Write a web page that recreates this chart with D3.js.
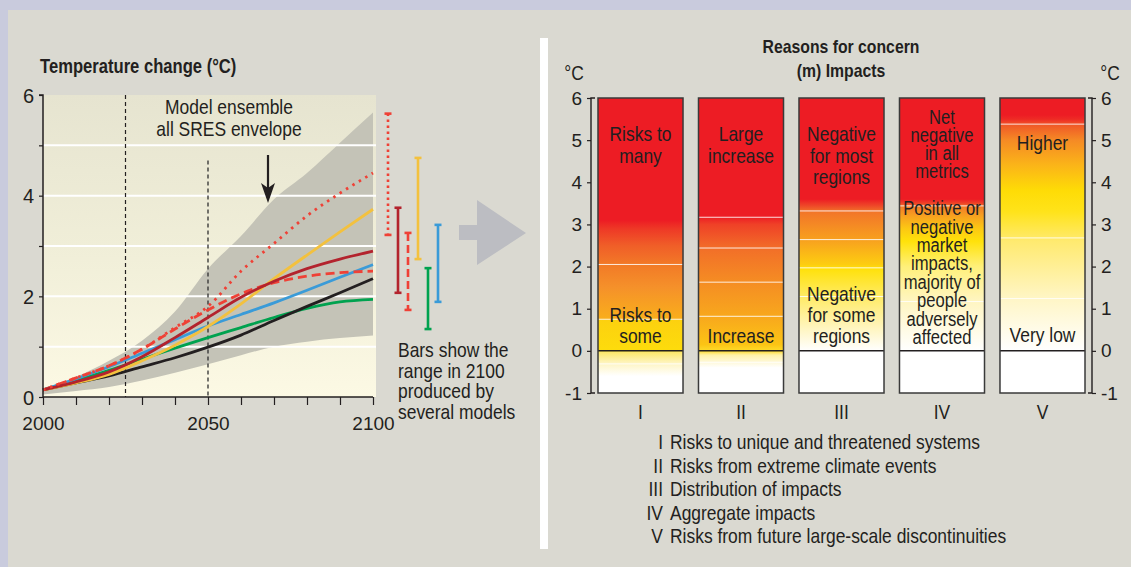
<!DOCTYPE html>
<html lang="en">
<head>
<meta charset="UTF-8">
<script src="https://d3js.org/d3.v7.min.js"></script>
<title>Temperature change and reasons for concern</title>
<style>
  body { margin: 0; background: #dad9d1; }
  svg text { fill: #231f20; }
  .narrow { font-family: "Liberation Sans", Arial, sans-serif; }
  .num { font-family: "Liberation Sans", Arial, sans-serif; }
</style>
</head>
<body>
<svg id="chart" width="1131" height="567"></svg>
<script>
// ---- left panel data: temperature change (deg C) by year ----
const years = [2000, 2010, 2020, 2030, 2040, 2050, 2060, 2070, 2080, 2090, 2100];
const envUpper = [0.15, 0.40, 0.72, 1.12, 1.70, 2.55, 3.20, 3.93, 4.45, 5.05, 5.65];
const envLower = [0.05, 0.12, 0.20, 0.33, 0.48, 0.65, 0.83, 1.00, 1.10, 1.17, 1.22];
const green   = [0.14, 0.33, 0.53, 0.75, 0.97, 1.18, 1.38, 1.58, 1.76, 1.89, 1.94];
const black   = [0.14, 0.28, 0.42, 0.60, 0.78, 0.99, 1.23, 1.52, 1.80, 2.07, 2.35];
const blue    = [0.14, 0.36, 0.60, 0.87, 1.14, 1.41, 1.64, 1.87, 2.12, 2.38, 2.63];
const yellow  = [0.14, 0.28, 0.45, 0.72, 1.03, 1.40, 1.85, 2.35, 2.82, 3.28, 3.73];
const redDash = [0.14, 0.38, 0.62, 0.95, 1.35, 1.73, 2.05, 2.27, 2.40, 2.47, 2.50];
const darkRed = [0.14, 0.30, 0.50, 0.80, 1.18, 1.58, 1.98, 2.30, 2.55, 2.74, 2.90];
const redDot  = [0.14, 0.38, 0.62, 0.95, 1.38, 1.80, 2.50, 3.05, 3.60, 4.05, 4.45];

// ranges in 2100 from several models [low, high]
const rangeNames = ["redDot", "darkRed", "redDash", "yellow", "green", "blue"];
const rangeLow  = [3.22, 2.07, 1.73, 2.74, 1.35, 1.89];
const rangeHigh = [5.63, 3.76, 3.26, 4.75, 2.56, 3.42];

const leftYTicks = [0, 2, 4, 6];
const leftXTicks = [2000, 2050, 2100];
const markerYears = [2025, 2050];

// ---- right panel data: reasons for concern ----
const reasons = ["I", "II", "III", "IV", "V"];
const reasonNames = [
  "Risks to unique and threatened systems",
  "Risks from extreme climate events",
  "Distribution of impacts",
  "Aggregate impacts",
  "Risks from future large-scale discontinuities"
];
const topLabels = [
  ["Risks to", "many"],
  ["Large", "increase"],
  ["Negative", "for most", "regions"],
  ["Net", "negative", "in all", "metrics"],
  ["Higher"]
];
const bottomLabels = [
  ["Risks to", "some"],
  ["Increase"],
  ["Negative", "for some", "regions"],
  ["Positive or", "negative", "market", "impacts,", "majority of", "people", "adversely", "affected"],
  ["Very low"]
];
// colour stops [temperature, colour] for each reason
const stopsI   = [[-1, "#ffffff"], [-0.6, "#ffffff"], [-0.3, "#fef5c4"], [-0.02, "#fde766"], [0, "#fddc0c"], [0.72, "#fcd10f"], [0.76, "#f9ae1b"], [1.5, "#f5912a"], [2.0, "#f27c27"], [2.5, "#f05e28"], [2.9, "#ee3826"], [3.1, "#ed1c24"], [6, "#ed1c24"]];
const stopsII  = [[-1, "#ffffff"], [-0.4, "#ffffff"], [-0.1, "#fef1a8"], [0, "#fedb2a"], [0.15, "#fcc414"], [0.8, "#f8a81d"], [1.6, "#f58e23"], [2.4, "#f27028"], [3.0, "#ef4127"], [3.18, "#ed1c24"], [6, "#ed1c24"]];
const stopsIII = [[-1, "#ffffff"], [0, "#ffffff"], [0.6, "#fff4b8"], [1.2, "#ffec70"], [1.95, "#ffe10a"], [2.05, "#fdcd10"], [2.6, "#f8a31e"], [3.3, "#f27529"], [3.45, "#ee4628"], [3.6, "#ed1c24"], [6, "#ed1c24"]];
const stopsIV  = [[-1, "#ffffff"], [0, "#ffffff"], [1.2, "#fff5c0"], [2.0, "#fff07a"], [2.6, "#ffe20a"], [2.9, "#fcc813"], [3.2, "#f7a11f"], [3.42, "#f27d28"], [3.5, "#ee4427"], [3.6, "#ed1c24"], [6, "#ed1c24"]];
const stopsV   = [[-1, "#ffffff"], [0, "#ffffff"], [1.2, "#fff6c8"], [2.6, "#ffea70"], [3.3, "#ffe31a"], [3.8, "#fedc06"], [4.4, "#fbb518"], [5.0, "#f58a25"], [5.35, "#f05a27"], [5.5, "#ee2a25"], [5.6, "#ed1c24"], [6, "#ed1c24"]];
const reasonStops = [stopsI, stopsII, stopsIII, stopsIV, stopsV];
// thin white division lines (deg C)
const reasonLines = [[-0.31, 0.75, 2.05], [-0.27, 0.82, 1.63, 2.44, 3.17], [1.29, 1.97, 2.64, 3.32], [1.17, 3.44], [1.24, 2.68, 5.38]];
const rightTicks = [-1, 0, 1, 2, 3, 4, 5, 6];

const svg = d3.select("#chart");
const defs = svg.append("defs");

// background frame
svg.append("rect").attr("width", 1131).attr("height", 567).attr("fill", "#dad9d1");
svg.append("rect").attr("width", 1131).attr("height", 10).attr("fill", "#c9cbdd");
svg.append("rect").attr("width", 8).attr("height", 567).attr("fill", "#c9cbdd");
svg.append("rect").attr("x", 540).attr("y", 38).attr("width", 8).attr("height", 511).attr("fill", "#ffffff");

// ================= left panel =================
const x = d3.scaleLinear().domain([2000, 2100]).range([43, 373]);
const y = d3.scaleLinear().domain([0, 6]).range([397, 95]);

const bg = defs.append("linearGradient").attr("id", "plotbg").attr("x1", 0).attr("x2", 0).attr("y1", 0).attr("y2", 1);
bg.append("stop").attr("offset", 0).attr("stop-color", "#e6e4d0");
bg.append("stop").attr("offset", 0.5).attr("stop-color", "#f0eed8");
bg.append("stop").attr("offset", 1).attr("stop-color", "#fcf9e4");

const left = svg.append("g");
left.append("rect").attr("x", x(2000)).attr("y", y(6)).attr("width", x(2100) - x(2000) + 3).attr("height", y(0) - y(6)).attr("fill", "url(#plotbg)");

const env = years.map((yr, i) => ({ yr, lo: envLower[i], hi: envUpper[i] }));
left.append("path")
  .datum(env)
  .attr("fill", "#c4c3b7")
  .attr("d", d3.area().curve(d3.curveMonotoneX).x(d => x(d.yr)).y0(d => y(d.lo)).y1(d => y(d.hi)));

// white grid
left.selectAll(".grid").data([1, 2, 3, 4, 5]).join("line")
  .attr("x1", x(2000)).attr("x2", x(2100) + 3)
  .attr("y1", d => y(d)).attr("y2", d => y(d))
  .attr("stroke", "#ffffff").attr("stroke-width", 2);

// vertical dashed markers
left.append("line").attr("x1", x(markerYears[0])).attr("x2", x(markerYears[0]))
  .attr("y1", y(6)).attr("y2", y(0))
  .attr("stroke", "#231f20").attr("stroke-width", 1.2).attr("stroke-dasharray", "4,3");
left.append("line").attr("x1", x(markerYears[1])).attr("x2", x(markerYears[1]))
  .attr("y1", y(4.7)).attr("y2", y(0))
  .attr("stroke", "#2e2e2e").attr("stroke-width", 1.3).attr("stroke-dasharray", "4,3");

const series = [
  { name: "green", values: green, color: "#00a24f", dash: null },
  { name: "black", values: black, color: "#231f20", dash: null },
  { name: "blue", values: blue, color: "#3a9bd8", dash: null },
  { name: "yellow", values: yellow, color: "#f3c13e", dash: null },
  { name: "redDash", values: redDash, color: "#ef4136", dash: "9,5" },
  { name: "darkRed", values: darkRed, color: "#b3232d", dash: null },
  { name: "redDot", values: redDot, color: "#ef4136", dash: "2.5,5" }
];
const line = d3.line().curve(d3.curveMonotoneX).x((d, i) => x(years[i])).y(d => y(d));
left.selectAll(".series").data(series).join("path")
  .attr("fill", "none")
  .attr("stroke", d => d.color)
  .attr("stroke-width", 2.8)
  .attr("stroke-dasharray", d => d.dash)
  .attr("d", d => line(d.values));

// axes
const yAxis = d3.axisLeft(y).tickValues([0, 1, 2, 3, 4, 5, 6]).tickSize(4).tickFormat(d => leftYTicks.includes(d) ? d : "");
const gy = left.append("g").attr("transform", `translate(${x(2000)},0)`).call(yAxis);
gy.select(".domain").attr("stroke", "#231f20").attr("stroke-width", 1.5).attr("d", `M-4,${y(6)}H0V${y(0)}`);
gy.selectAll(".tick line").attr("stroke", "#231f20").attr("stroke-width", 1.2);
gy.selectAll(".tick text").attr("class", "num").attr("font-size", 20).attr("x", -9).attr("dy", "0.36em").attr("fill", "#231f20");

const xAxis = d3.axisBottom(x).tickValues(d3.range(2000, 2101, 10)).tickSize(8).tickFormat(d => leftXTicks.includes(d) ? d : "");
const gx = left.append("g").attr("transform", `translate(0,${y(0)})`).call(xAxis);
gx.select(".domain").attr("stroke", "#231f20").attr("stroke-width", 1.5).attr("d", `M${x(2000)},0H${x(2100)}`);
gx.selectAll(".tick line").attr("stroke", "#231f20").attr("stroke-width", 1.2);
gx.selectAll(".tick text").attr("class", "num").attr("font-size", 19).attr("y", 20).attr("dy", "0.71em").attr("fill", "#231f20");

left.append("text").attr("class", "narrow").attr("x", 40).attr("y", 73)
  .attr("font-size", 20).attr("font-weight", "bold").text("Temperature change (°C)");

left.append("text").attr("class", "narrow").attr("text-anchor", "middle").attr("font-size", 21)
  .selectAll("tspan").data(["Model ensemble", "all SRES envelope"]).join("tspan")
  .attr("x", 229).attr("y", (d, i) => 114 + i * 22).text(d => d);

// black arrow
left.append("line").attr("x1", 268).attr("x2", 268).attr("y1", 155).attr("y2", 190)
  .attr("stroke", "#231f20").attr("stroke-width", 2.2);
left.append("path").attr("d", "M261,183 L268,203 L275,183 L268,188 Z").attr("fill", "#231f20");

// range bars
const bx = d3.scalePoint().domain(rangeNames).range([388, 438]);
const colorOf = Object.fromEntries(series.map(s => [s.name, s]));
const bars = left.selectAll(".rng").data(rangeNames).join("g");
bars.append("line")
  .attr("x1", d => bx(d)).attr("x2", d => bx(d))
  .attr("y1", (d, i) => y(rangeHigh[i])).attr("y2", (d, i) => y(rangeLow[i]))
  .attr("stroke", d => colorOf[d].color).attr("stroke-width", 2.6)
  .attr("stroke-dasharray", d => d === "redDot" ? "2.5,3.5" : d === "redDash" ? "8,4" : null);
[rangeHigh, rangeLow].forEach(arr => {
  bars.append("line")
    .attr("x1", d => bx(d) - 3.5).attr("x2", d => bx(d) + 3.5)
    .attr("y1", (d, i) => y(arr[i])).attr("y2", (d, i) => y(arr[i]))
    .attr("stroke", d => colorOf[d].color).attr("stroke-width", 2.6);
});

left.append("text").attr("class", "narrow").attr("font-size", 21)
  .selectAll("tspan").data(["Bars show the", "range in 2100", "produced by", "several models"]).join("tspan")
  .attr("x", 398).attr("y", (d, i) => 357 + i * 20.7).text(d => d);

// grey arrow
svg.append("path").attr("d", "M459,225 H477 V200 L526,233 L477,265 V240 H459 Z").attr("fill", "#bcbdc2");

// ================= right panel =================
const yR = d3.scaleLinear().domain([-1, 6]).range([393, 98]);
const xR = d3.scaleBand().domain(reasons).range([598, 1085]).paddingInner(0.154).paddingOuter(0);

reasons.forEach((r, i) => {
  const g = defs.append("linearGradient").attr("id", "grad" + i)
    .attr("gradientUnits", "userSpaceOnUse")
    .attr("x1", 0).attr("x2", 0).attr("y1", yR(-1)).attr("y2", yR(6));
  g.selectAll("stop").data(reasonStops[i]).join("stop")
    .attr("offset", d => (d[0] + 1) / 7).attr("stop-color", d => d[1]);
});

const right = svg.append("g");
const cols = right.selectAll(".col").data(reasons).join("g");
cols.append("rect")
  .attr("x", d => xR(d)).attr("y", yR(6))
  .attr("width", xR.bandwidth()).attr("height", yR(-1) - yR(6))
  .attr("fill", (d, i) => `url(#grad${i})`);
cols.each(function (d, i) {
  d3.select(this).selectAll(".div").data(reasonLines[i]).join("line")
    .attr("x1", xR(d)).attr("x2", xR(d) + xR.bandwidth())
    .attr("y1", v => yR(v)).attr("y2", v => yR(v))
    .attr("stroke", "#ffffff").attr("stroke-opacity", 0.85).attr("stroke-width", 1);
});
cols.append("line")
  .attr("x1", d => xR(d)).attr("x2", d => xR(d) + xR.bandwidth())
  .attr("y1", yR(0)).attr("y2", yR(0))
  .attr("stroke", "#231f20").attr("stroke-width", 1.5);
cols.append("rect")
  .attr("x", d => xR(d)).attr("y", yR(6))
  .attr("width", xR.bandwidth()).attr("height", yR(-1) - yR(6))
  .attr("fill", "none").attr("stroke", "#3a3a3a").attr("stroke-width", 1.5);

// labels inside columns
const topStart = [141, 141, 141, 124, 150];
const topStep = [21.5, 21.5, 21.5, 18, 21.5];
const bottomEnd = [343, 343, 343, 344, 342];
const bottomStep = [21, 21, 21, 18.4, 21];
const labelSize = [21, 21, 21, 20, 21];
cols.each(function (d, i) {
  const cx = xR(d) + xR.bandwidth() / 2;
  const gg = d3.select(this);
  gg.append("text").attr("class", "narrow").attr("text-anchor", "middle").attr("font-size", labelSize[i])
    .selectAll("tspan").data(topLabels[i]).join("tspan")
    .attr("x", cx).attr("y", (t, k) => topStart[i] + k * topStep[i]).text(t => t);
  const n = bottomLabels[i].length;
  gg.append("text").attr("class", "narrow").attr("text-anchor", "middle").attr("font-size", labelSize[i])
    .selectAll("tspan").data(bottomLabels[i]).join("tspan")
    .attr("x", cx).attr("y", (t, k) => bottomEnd[i] - (n - 1 - k) * bottomStep[i]).text(t => t);
  gg.append("text").attr("class", "narrow").attr("text-anchor", "middle").attr("font-size", 21)
    .attr("x", cx).attr("y", 419).text(d);
});

// right panel axes
const ra = right.append("g").attr("transform", "translate(591,0)")
  .call(d3.axisLeft(yR).tickValues(rightTicks).tickSize(4).tickFormat(d => String(d)));
ra.select(".domain").attr("stroke", "#231f20").attr("stroke-width", 1.4).attr("d", `M4,${yR(6)}H0V${yR(-1)}H4`);
ra.selectAll(".tick line").attr("stroke", "#231f20").attr("stroke-width", 1.2);
ra.selectAll(".tick text").attr("class", "num").attr("font-size", 19).attr("x", -9).attr("fill", "#231f20");

const rb = right.append("g").attr("transform", "translate(1092,0)")
  .call(d3.axisRight(yR).tickValues(rightTicks).tickSize(4).tickFormat(d => String(d)));
rb.select(".domain").attr("stroke", "#231f20").attr("stroke-width", 1.4).attr("d", `M-4,${yR(6)}H0V${yR(-1)}H-4`);
rb.selectAll(".tick line").attr("stroke", "#231f20").attr("stroke-width", 1.2);
rb.selectAll(".tick text").attr("class", "num").attr("font-size", 19).attr("x", 9).attr("fill", "#231f20");

right.append("text").attr("class", "narrow").attr("x", 574).attr("y", 80).attr("text-anchor", "middle").attr("font-size", 21).text("°C");
right.append("text").attr("class", "narrow").attr("x", 1110).attr("y", 80).attr("text-anchor", "middle").attr("font-size", 21).text("°C");

right.append("text").attr("class", "narrow").attr("text-anchor", "middle").attr("font-size", 19).attr("font-weight", "bold")
  .selectAll("tspan").data(["Reasons for concern", "(m) Impacts"]).join("tspan")
  .attr("x", 841).attr("y", (d, i) => 53 + i * 24).text(d => d);

// legend
const leg = right.selectAll(".leg").data(reasons).join("g")
  .attr("transform", (d, i) => `translate(0,${449 + i * 23.6})`);
leg.append("text").attr("class", "narrow").attr("font-size", 21).attr("x", 663).attr("text-anchor", "end").text(d => d);
leg.append("text").attr("class", "narrow").attr("font-size", 21).attr("x", 670).text((d, i) => reasonNames[i]);

// the original type is a condensed gothic: squeeze text horizontally
svg.selectAll("text.narrow").each(function () {
  const spans = d3.select(this).selectAll("tspan");
  const parts = spans.empty() ? [this] : spans.nodes();
  parts.forEach(el => {
    const w = el.getComputedTextLength();
    if (w > 0) d3.select(el).attr("textLength", w * 0.83).attr("lengthAdjust", "spacingAndGlyphs");
  });
});
</script>
</body>
</html>
